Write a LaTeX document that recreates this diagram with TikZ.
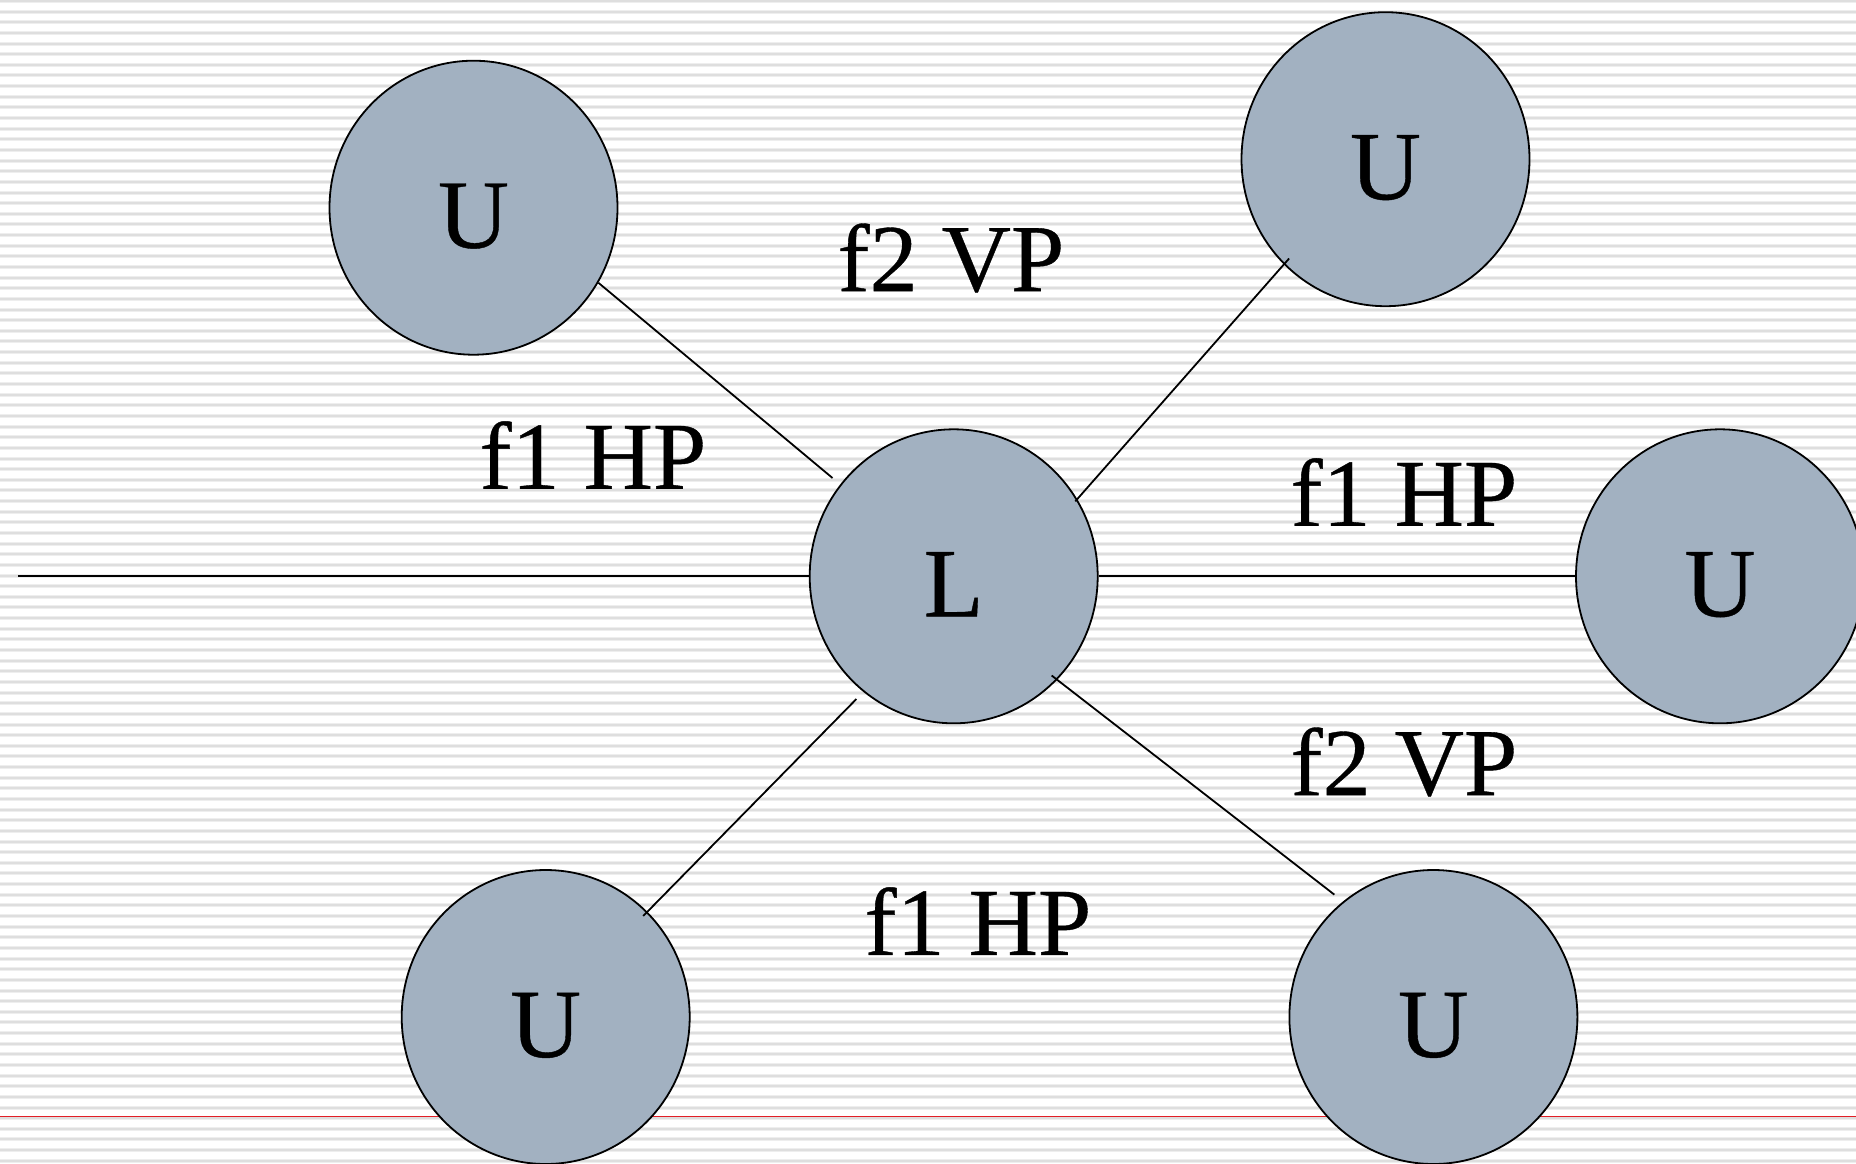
\documentclass[tikz,border=0pt]{standalone}
\usepackage{fontspec}
\setmainfont{Liberation Serif}
\newfontfamily\diagfont{Liberation Serif}[FakeBold=0.4]
\usetikzlibrary{shapes.geometric}

\definecolor{nodefill}{RGB}{162,177,193}
\definecolor{stripeedge}{RGB}{238,238,238}
\definecolor{stripecore}{RGB}{222,222,222}
\definecolor{ruleRed}{RGB}{226,30,38}

\tikzset{
  party/.style={ellipse, draw=black, line width=1.8pt, fill=nodefill,
    minimum width=288pt, minimum height=294pt, inner sep=0pt,
    text height=80pt, text depth=0pt,
    font=\diagfont\fontsize{98}{98}\selectfont},
  link/.style={line width=1.8pt, draw=black},
  tag/.style={inner sep=0pt, font=\diagfont\fontsize{96}{96}\selectfont},
}

\begin{document}
\begin{tikzpicture}[x=1pt, y=-1pt]
  \clip (0,0) rectangle (1856,1163);
  \fill[white] (0,0) rectangle (1856,1163);

  % ruled paper background
  \foreach \i in {0,...,109} {
    \draw[stripeedge, line width=4pt] (0,{1+10.64*\i}) -- (1856,{1+10.64*\i});
    \draw[stripecore, line width=2pt] (0,{1+10.64*\i}) -- (1856,{1+10.64*\i});
  }
  \draw[ruleRed, line width=1.4pt] (0,1116.3) -- (1856,1116.3);

  % nodes
  \node[party] (L)  at (953.7,576.3) {L};
  \node[party] (u1) at (473.5,207.7) {U};
  \node[party] (u2) at (1385.5,159.2) {U};
  \node[party] (u5) at (1720,576.3) {U};
  \node[party] (u3) at (545.7,1017) {U};
  \node[party] (u4) at (1433.4,1017) {U};

  % connectors
  \coordinate (west) at (18,576.3);
  \draw[link] (west) -- (L.west);
  \draw[link] (L.east) -- (u5.west);
  \draw[link, shorten >=10pt] (u1.-31) -- (L.141);
  \draw[link, shorten <=-3pt, shorten >=-8pt] (L.32) -- (u2.226);
  \draw[link, shorten <=10pt, shorten >=-6pt] (L.-128) -- (u3.46);
  \draw[link, shorten <=-7pt, shorten >=11pt] (L.-45) -- (u4.128);

  % labels
  \node[tag] (t1) at (951,258) {f2 VP};
  \node[tag] (t2) at (593,455) {f1 HP};
  \node[tag] (t3) at (1404,492) {f1 HP};
  \node[tag] (t4) at (1404,762) {f2 VP};
  \node[tag] (t5) at (978,921) {f1 HP};
\end{tikzpicture}
\end{document}
